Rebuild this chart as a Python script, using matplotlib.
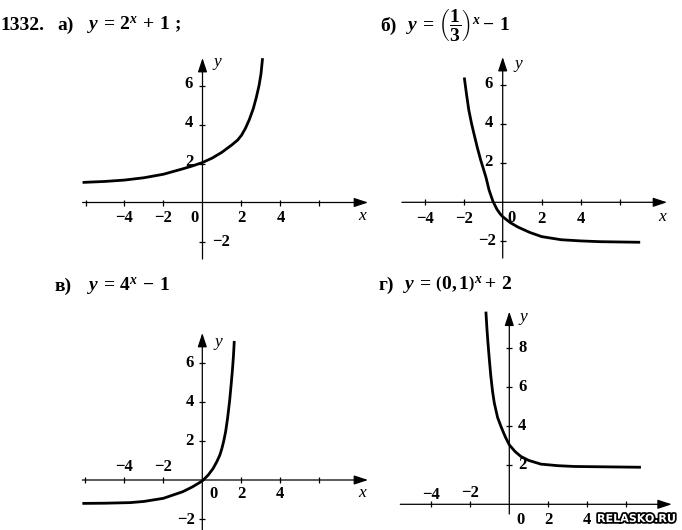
import matplotlib
matplotlib.use('Agg')
import matplotlib.pyplot as plt
from matplotlib import patheffects as pe

# ---------------- data ----------------
# а) y = 2^x + 1
a_x = [-6.15, -5.0, -4.0, -3.0, -2.0, -1.0, -0.5, 0.0, 0.5, 1.0, 1.5, 1.8, 2.0, 2.2, 2.4, 2.6, 2.75, 2.9, 3.0, 3.08]
a_y = [1.03, 1.08, 1.15, 1.27, 1.45, 1.73, 1.88, 2.05, 2.28, 2.58, 2.95, 3.2, 3.45, 3.8, 4.25, 4.8, 5.35, 6.0, 6.6, 7.4]
# б) y = (1/3)^x - 1
b_x = [-1.97, -1.85, -1.74, -1.6, -1.48, -1.3, -1.13, -1.0, -0.85, -0.7, -0.5, -0.3, -0.15, 0.0, 0.4, 0.78, 1.4, 2.0, 3.0, 4.0, 5.0, 7.05]
b_y = [6.4, 5.5, 4.74, 4.05, 3.54, 2.8, 2.17, 1.75, 1.25, 0.63, 0.05, -0.35, -0.57, -0.74, -1.05, -1.27, -1.55, -1.76, -1.92, -1.98, -2.02, -2.05]
# в) y = 4^x - 1
c_x = [-6.15, -5.0, -3.7, -3.0, -2.0, -1.0, -0.5, 0.0, 0.3, 0.56, 0.75, 0.9, 1.0, 1.1, 1.2, 1.3, 1.4, 1.48, 1.55, 1.6, 1.64]
c_y = [-1.2, -1.19, -1.16, -1.1, -0.94, -0.6, -0.35, -0.05, 0.25, 0.6, 0.95, 1.28, 1.6, 2.0, 2.5, 3.2, 4.05, 4.9, 5.7, 6.4, 7.13]
# г) y = (0,1)^x + 2
d_x = [-1.2, -1.15, -1.1, -1.03, -0.95, -0.86, -0.77, -0.6, -0.43, -0.3, -0.2, 0.0, 0.3, 0.6, 1.0, 1.62, 2.5, 3.33, 5.0, 6.75]
d_y = [9.88, 9.05, 8.35, 7.5, 6.6, 5.8, 5.2, 4.45, 4.0, 3.68, 3.45, 3.05, 2.7, 2.45, 2.25, 2.06, 1.98, 1.94, 1.92, 1.9]

# tick positions
a_xticks = [-6, -4, -2, 2, 4, 6]
a_yticks = [-2, 2, 4, 6]
b_xticks = [-4, -2, 2, 4, 6]
b_yticks = [-2, 2, 4, 6]
c_xticks = [-6, -4, -2, 2, 4, 6]
c_yticks = [-2, 2, 4, 6]
d_xticks = [-4, -2, 2, 4, 6]
d_yticks = [2, 4, 6, 8]

# ---------------- styling ----------------
W, H, DPI = 682, 530, 100
U = 19.5  # pixels per unit
plt.rcParams['font.family'] = ['Liberation Serif', 'DejaVu Serif']
plt.rcParams['mathtext.fontset'] = 'custom'
plt.rcParams['mathtext.rm'] = 'Liberation Serif:bold'
plt.rcParams['mathtext.it'] = 'Liberation Serif:italic:bold'
plt.rcParams['mathtext.bf'] = 'Liberation Serif:bold'

fig = plt.figure(figsize=(W / DPI, H / DPI), dpi=DPI)
fig.patch.set_facecolor('white')

TICK_FS = 12
LBL_FS = 12.5
TITLE_FS = 14


def panel(ox, oy, xlim, ylim):
    left = ox + xlim[0] * U
    width = (xlim[1] - xlim[0]) * U
    top = oy - ylim[1] * U
    height = (ylim[1] - ylim[0]) * U
    ax = fig.add_axes([left / W, (H - top - height) / H, width / W, height / H])
    ax.set_xlim(*xlim)
    ax.set_ylim(*ylim)
    ax.axis('off')
    return ax


def draw_axes(ax, x0, x1, y0, y1, xt, yt):
    arrow = dict(arrowstyle='-|>,head_length=0.85,head_width=0.28', color='black',
                 lw=0.9, shrinkA=0, shrinkB=0)
    ax.annotate('', xy=(x1, 0), xytext=(x0, 0), arrowprops=arrow)
    ax.annotate('', xy=(0, y1), xytext=(0, y0), arrowprops=arrow)
    ax.plot(xt, [0] * len(xt), ls='none', marker='|', ms=5, mew=0.9, color='black')
    ax.plot([0] * len(yt), yt, ls='none', marker='_', ms=5, mew=0.9, color='black')


def lab(ax, x, y, v, ha='center'):
    s = str(v).replace('-', '\u2212')
    ax.text(x, y, s, ha=ha, va='center', fontsize=TICK_FS, fontweight='bold')


def axis_names(ax, yx, yy, xx=None, xy=None):
    ax.text(yx, yy, 'y', fontsize=LBL_FS, style='italic', ha='center', va='center')
    if xx is not None:
        ax.text(xx, xy, 'x', fontsize=LBL_FS, style='italic', ha='center', va='center')


def ftext(x, y, s, **kw):
    fig.text(x / W, 1 - y / H, s, **kw)


CURVE = dict(color='black', lw=2.0, solid_capstyle='butt', solid_joinstyle='round')

# ---- а ----
ax = panel(202.5, 202.5, (-7, 9), (-3.2, 8))
draw_axes(ax, -6.15, 8.49, -2.9, 7.41, a_xticks, a_yticks)
ax.plot(a_x, a_y, **CURVE)
for t in [-4, -2, 2, 4]:
    lab(ax, t, -0.81, t)
lab(ax, -0.43, -0.81, 0)
for t in [2, 4, 6]:
    lab(ax, -0.69, t + 0.1, t)
lab(ax, 0.5, -2, -2, ha='left')
axis_names(ax, 0.75, 7.2, 8.2, -0.7)

# ---- б ----
ax = panel(502.7, 202.3, (-5.5, 9), (-3.2, 8))
draw_axes(ax, -5.17, 8.43, -2.86, 7.45, b_xticks, b_yticks)
ax.plot(b_x, b_y, **CURVE)
for t in [-4, -2, 2, 4]:
    lab(ax, t, -0.85, t)
lab(ax, 0.45, -0.78, 0)
for t in [2, 4, 6]:
    lab(ax, -0.72, t + 0.05, t)
lab(ax, -0.35, -2, -2, ha='right')
axis_names(ax, 0.78, 7.1, 8.15, -0.75)

# ---- в ----
ax = panel(202.3, 480.0, (-7, 9), (-3, 8))
draw_axes(ax, -6.15, 8.5, -2.6, 7.54, c_xticks, c_yticks)
ax.plot(c_x, c_y, **CURVE)
for t in [-4, -2]:
    lab(ax, t, 0.68, t)
lab(ax, 0.56, -0.73, 0)
for t in [2, 4]:
    lab(ax, t, -0.73, t)
for t in [2, 4, 6]:
    lab(ax, -0.65, t, t)
lab(ax, -0.35, -2.05, -2, ha='right')
axis_names(ax, 0.82, 7.09, 8.2, -0.67)

# ---- г ----
ax = panel(509.3, 504.3, (-6, 9), (-1.5, 10.5))
draw_axes(ax, -5.59, 8.33, -0.5, 9.88, d_xticks, d_yticks)
ax.plot(d_x, d_y, **CURVE)
lab(ax, -4, 0.48, -4)
lab(ax, -2, 0.6, -2)
lab(ax, 0.56, -0.8, 0)
for t in [2, 4]:
    lab(ax, t, -0.8, t)
for t in [2, 4, 6, 8]:
    lab(ax, 0.45, t, t, ha='left')
axis_names(ax, 0.74, 9.62)

# ---------------- titles ----------------
ftext(0, 30, '1332.', fontsize=TITLE_FS, fontweight='bold', va='baseline')
ftext(57, 30, 'а)', fontsize=TITLE_FS, fontweight='bold', va='baseline')
ftext(87, 30, r'$y\,=\,2^{x}\,+\,1\ ;$', fontsize=TITLE_FS, va='baseline')

ftext(380, 31, 'б)', fontsize=TITLE_FS, fontweight='bold', va='baseline')
ftext(406, 26, r'$y\,=\,\left(\dfrac{1}{3}\right)^{x}-\,1$', fontsize=TITLE_FS, va='center')

ftext(55, 291, 'в)', fontsize=TITLE_FS, fontweight='bold', va='baseline')
ftext(87, 291, r'$y\,=\,4^{x}\,-\,1$', fontsize=TITLE_FS, va='baseline')

ftext(379, 290, 'г)', fontsize=TITLE_FS, fontweight='bold', va='baseline')
ftext(403, 285, r'$y\,=\,\left(0,1\right)^{x}+\,2$', fontsize=TITLE_FS, va='center')

# watermark
ftext(597, 519, 'RELASKO.RU', fontsize=8, fontweight='bold', family='DejaVu Sans',
      color='white', va='center', ha='left',
      path_effects=[pe.withStroke(linewidth=2.5, foreground='black')])

fig.savefig('out.png', dpi=DPI, facecolor='white')
